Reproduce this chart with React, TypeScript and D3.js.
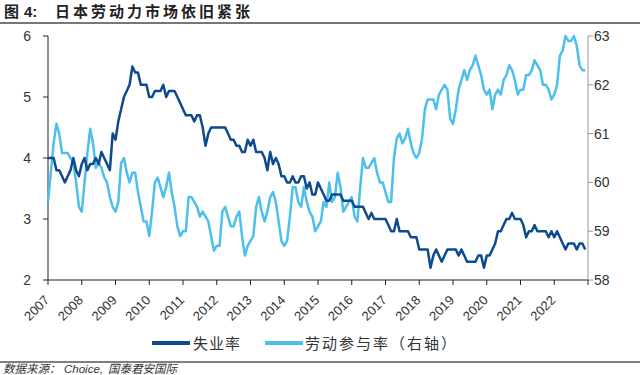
import React from "react";
import * as d3 from "d3";

const years = ["2007","2008","2009","2010","2011","2012","2013","2014","2015","2016","2017","2018","2019","2020","2021","2022"];

const unemployment = [
  4.0,4.0,4.0,3.8,3.8,3.7,3.6,3.7,3.8,4.0,3.8,3.7,
  3.9,4.0,3.8,3.9,3.9,4.0,3.9,4.1,4.0,3.9,3.8,4.4,
  4.3,4.6,4.8,5.0,5.1,5.2,5.5,5.4,5.4,5.2,5.2,5.2,
  5.0,5.0,5.1,5.1,5.1,5.2,5.0,5.1,5.1,5.1,5.0,4.9,
  4.8,4.7,4.7,4.7,4.6,4.7,4.7,4.5,4.2,4.4,4.5,4.5,
  4.5,4.5,4.5,4.5,4.4,4.3,4.3,4.2,4.2,4.1,4.1,4.3,
  4.2,4.3,4.1,4.1,4.1,4.0,3.8,4.1,3.9,4.0,3.9,3.7,
  3.7,3.6,3.6,3.7,3.6,3.6,3.7,3.7,3.5,3.6,3.4,3.4,
  3.6,3.5,3.4,3.3,3.3,3.4,3.4,3.4,3.4,3.3,3.3,3.3,
  3.3,3.2,3.2,3.2,3.2,3.1,3.0,3.1,3.0,3.0,3.0,3.0,
  3.0,2.9,2.8,2.8,3.0,2.8,2.8,2.8,2.8,2.7,2.7,2.7,
  2.5,2.5,2.5,2.5,2.2,2.4,2.5,2.4,2.3,2.4,2.5,2.5,
  2.5,2.5,2.4,2.5,2.4,2.3,2.3,2.3,2.3,2.4,2.4,2.2,
  2.4,2.4,2.5,2.6,2.8,2.8,2.9,3.0,3.0,3.1,3.0,3.0,
  3.0,2.9,2.7,2.8,2.8,2.9,2.8,2.8,2.8,2.8,2.7,2.8,
  2.7,2.8,2.7,2.6,2.5,2.6,2.6,2.6,2.5,2.6,2.6,2.5
];

const participation = [
  59.6,60.2,60.8,61.2,61.0,60.6,60.6,60.6,60.5,60.4,60.0,59.5,
  59.4,60.0,60.6,61.1,60.8,60.3,60.4,60.3,60.1,60.0,59.7,59.5,
  59.4,59.6,60.4,60.5,60.2,60.0,60.2,60.2,59.8,59.5,59.2,59.2,
  58.9,59.4,60.0,60.1,59.9,59.7,59.9,60.2,59.8,59.5,59.1,58.9,
  59.0,59.0,59.7,59.7,59.6,59.5,59.3,59.4,59.3,59.2,58.9,58.6,
  58.7,58.7,59.4,59.5,59.3,59.1,59.1,59.3,59.4,58.9,58.5,58.7,
  58.8,58.9,59.5,59.7,59.4,59.2,59.4,59.7,59.8,59.6,59.2,58.8,
  58.7,58.8,59.3,59.9,59.9,59.6,59.5,59.9,59.6,59.4,59.3,59.0,
  59.1,59.2,59.6,59.5,60.0,59.6,59.7,60.2,59.9,59.4,59.5,59.6,
  59.7,59.3,59.2,59.9,60.5,60.3,60.3,60.4,60.5,60.2,60.0,60.0,
  59.8,59.6,59.6,60.5,60.9,61.0,60.8,60.9,61.1,60.8,60.6,60.5,
  60.6,60.9,61.5,61.7,61.7,61.7,61.5,61.8,61.9,62.0,61.9,61.3,
  61.2,61.5,61.9,62.1,62.3,62.1,62.3,62.4,62.6,62.4,62.2,61.9,
  61.8,61.9,61.5,61.8,61.9,61.8,62.1,62.2,62.4,62.3,62.1,61.8,
  61.9,61.9,62.2,62.2,62.3,62.5,62.4,62.3,62.0,62.0,61.9,61.7,
  61.8,62.0,62.6,62.7,63.0,62.9,62.9,63.0,62.8,62.4,62.3,62.3
];

const leftTicks = [2, 3, 4, 5, 6];
const rightTicks = [58, 59, 60, 61, 62, 63];

const DARK = "#0D4A8E";
const LIGHT = "#4DBFEC";

export default function App() {
  const W = 640, H = 375;
  const left = 48, right = 588, top = 36, bottom = 280;
  const x = d3.scaleLinear().domain([0, 192]).range([left, right]);
  const yL = d3.scaleLinear().domain([2, 6]).range([bottom, top]);
  const yR = d3.scaleLinear().domain([58, 63]).range([bottom, top]);

  const lineL = d3.line<number>().x((_, i) => x(i)).y(d => yL(d));
  const lineR = d3.line<number>().x((_, i) => x(i)).y(d => yR(d));
  const monthTicks = d3.range(0, 193, 12);

  const font = "'Liberation Sans', Arial, sans-serif";
  const cjk = "'Noto Sans CJK SC', sans-serif";

  return (
    <svg width={W} height={H} style={{ position: "absolute", left: 0, top: 0, background: "#fff" }}>
      <text x={4} y={17} fontFamily={cjk} fontWeight="bold" fontSize={15} fill="#222">图</text>
      <text x={24} y={17} fontFamily={font} fontWeight="bold" fontSize={15} fill="#222">4:</text>
      <text x={55} y={17} fontFamily={cjk} fontWeight="bold" fontSize={15} letterSpacing={3} fill="#222">日本劳动力市场依旧紧张</text>
      <line x1={0} x2={W} y1={23} y2={23} stroke="#777" strokeWidth={2} />

      {/* left axis */}
      <line x1={left} x2={left} y1={top} y2={bottom} stroke="#222" strokeWidth={1} />
      {leftTicks.map(t => (
        <g key={"l" + t}>
          <line x1={left - 5} x2={left} y1={yL(t)} y2={yL(t)} stroke="#222" />
          <text x={31} y={yL(t) + 5} textAnchor="end" fontFamily={font} fontSize={14} fill="#333">{t}</text>
        </g>
      ))}

      {/* right axis */}
      <line x1={right} x2={right} y1={top} y2={bottom} stroke="#999" strokeWidth={1} />
      {rightTicks.map(t => (
        <g key={"r" + t}>
          <line x1={right} x2={right + 5} y1={yR(t)} y2={yR(t)} stroke="#999" />
          <text x={594} y={yR(t) + 5} textAnchor="start" fontFamily={font} fontSize={14} fill="#333">{t}</text>
        </g>
      ))}

      {/* x axis */}
      <line x1={left} x2={right} y1={bottom} y2={bottom} stroke="#222" strokeWidth={1} />
      {monthTicks.map(m => (
        <line key={"t" + m} x1={x(m)} x2={x(m)} y1={bottom} y2={bottom + 5} stroke="#222" />
      ))}
      {years.map((yr, i) => (
        <text key={yr} transform={`translate(${x(i * 12) + 2},${bottom + 21}) rotate(-45)`} textAnchor="end"
          fontFamily={font} fontSize={13} fill="#333">{yr}</text>
      ))}

      <path d={lineR(participation) || ""} fill="none" stroke={LIGHT} strokeWidth={2.5} strokeLinejoin="round" />
      <path d={lineL(unemployment) || ""} fill="none" stroke={DARK} strokeWidth={2.5} strokeLinejoin="round" />

      {/* legend */}
      <line x1={152} x2={190} y1={343} y2={343} stroke={DARK} strokeWidth={4} />
      <text x={193} y={349} fontFamily={cjk} fontSize={15} letterSpacing={1} fill="#333">失业率</text>
      <line x1={265} x2={303} y1={343} y2={343} stroke={LIGHT} strokeWidth={4} />
      <text x={305} y={349} fontFamily={cjk} fontSize={15} letterSpacing={2} fill="#333">劳动参与率（右轴）</text>

      <line x1={0} x2={W} y1={362} y2={362} stroke="#555" strokeWidth={1.5} />
      <text x={3} y={373} fontFamily={cjk} fontStyle="italic" fontSize={11.5} fill="#333">数据来源：</text>
      <text x={64} y={373} fontFamily={font} fontStyle="italic" fontSize={11.5} fill="#333">Choice,</text>
      <text x={108} y={373} fontFamily={cjk} fontStyle="italic" fontSize={11.5} fill="#333">国泰君安国际</text>
    </svg>
  );
}
